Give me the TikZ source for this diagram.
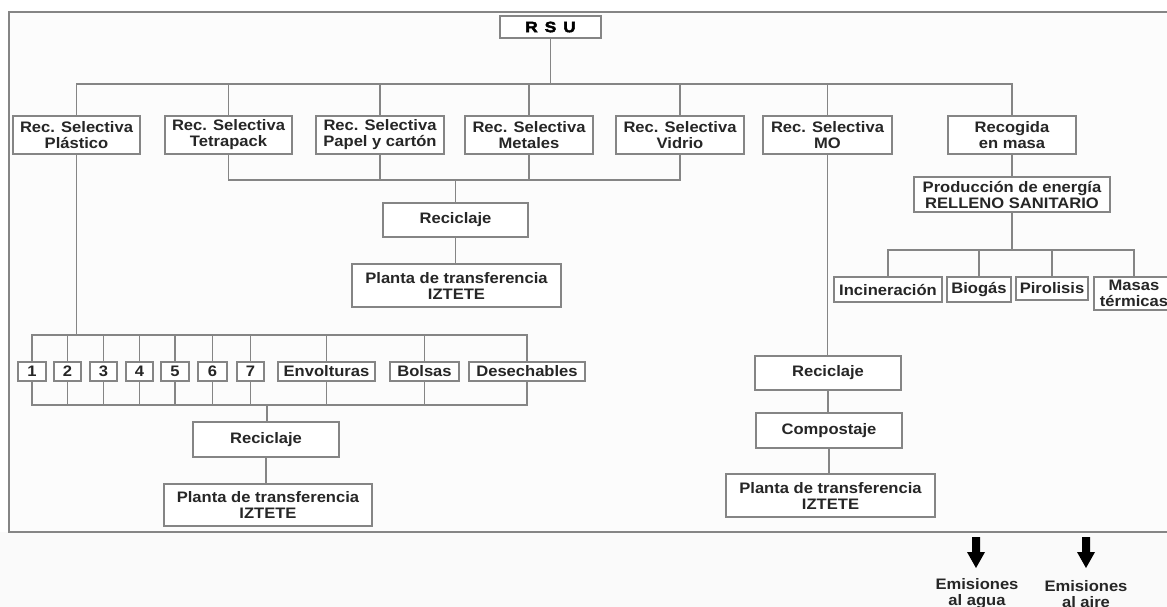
\documentclass[tikz,border=0pt]{standalone}
\usepackage{fontspec}
\setmainfont{Liberation Sans Bold}[FakeStretch=1.09]
\newfontfamily\rsufont{Liberation Sans Bold}[FakeStretch=1.15,FakeBold=3]
\definecolor{linec}{HTML}{858585}
\definecolor{txt}{HTML}{262626}
\definecolor{bgin}{HTML}{FCFCFC}
\definecolor{bgout}{HTML}{FAFAFA}
\newcommand{\fsz}{\fontsize{15.2pt}{16pt}\selectfont}
\begin{document}
\begin{tikzpicture}[x=1pt,y=-1pt,
  bx/.style={draw=linec, line width=1.3pt, fill=white, inner sep=0pt, align=center, font=\fsz, text=txt},
  sz/.style 2 args={minimum width=#1pt, minimum height=#2pt},
  ln/.style={draw=linec, line width=1.2pt},
  lbl/.style={inner sep=0pt, align=center, font=\fsz, text=txt}]
\useasboundingbox (0,0) rectangle (1167,607);
\clip (0,0) rectangle (1167,607);
\fill[white] (0,0) rectangle (1167,607);
\fill[bgout] (0,532) rectangle (1167,607);
\filldraw[fill=bgin, draw=linec, line width=1.2pt] (1190,12) -- (9,12) -- (9,532) -- (1190,532);

% nodes
\node[bx, sz={101}{22}, font=\rsufont\fontsize{15pt}{16pt}\selectfont, text=black] (rsu) at (550.5,27) {R\hspace{7pt}S\hspace{7pt}U};
\node[bx, sz={127}{38}] (p1) at (76.5,135) {Rec. Selectiva\\Plástico};
\node[bx, sz={127}{38}] (p2) at (228.5,135) {Rec. Selectiva\\Tetrapack};
\node[bx, sz={128}{38}] (p3) at (380,135) {Rec. Selectiva\\Papel y cartón};
\node[bx, sz={128}{38}] (p4) at (529,135) {Rec. Selectiva\\Metales};
\node[bx, sz={128}{38}] (p5) at (680,135) {Rec. Selectiva\\Vidrio};
\node[bx, sz={129}{38}] (p6) at (827.5,135) {Rec. Selectiva\\MO};
\node[bx, sz={128}{38}] (p7) at (1012,135) {Recogida\\en masa};

\node[bx, sz={145}{34}] (rec1) at (455.5,220) {Reciclaje};
\node[bx, sz={209}{43}] (pl1) at (456.5,285.5) {Planta de transferencia\\IZTETE};

\node[bx, sz={28}{19}] (n1) at (32,371.5) {1};
\node[bx, sz={27}{19}] (n2) at (67.5,371.5) {2};
\node[bx, sz={27}{19}] (n3) at (103.5,371.5) {3};
\node[bx, sz={27}{19}] (n4) at (139.5,371.5) {4};
\node[bx, sz={28}{19}] (n5) at (175,371.5) {5};
\node[bx, sz={29}{19}] (n6) at (212.5,371.5) {6};
\node[bx, sz={27}{19}] (n7) at (250.5,371.5) {7};
\node[bx, sz={97}{19}] (env) at (326.5,371.5) {Envolturas};
\node[bx, sz={69}{19}] (bol) at (424.5,371.5) {Bolsas};
\node[bx, sz={116}{19}] (des) at (527,371.5) {Desechables};

\node[bx, sz={146}{35}] (rec2) at (266,439.5) {Reciclaje};
\node[bx, sz={208}{42}] (pl2) at (268,505) {Planta de transferencia\\IZTETE};

\node[bx, sz={196}{35}] (prod) at (1012,194.5) {Producción de energía\\RELLENO SANITARIO};
\node[bx, sz={108}{25}] (inc) at (888,289.5) {Incineración};
\node[bx, sz={64}{25}] (bio) at (979,289.5) {Biogás};
\node[bx, sz={72}{23}] (pir) at (1052,288.5) {Pirolisis};
\node[bx, sz={80}{33}] (mas) at (1134,293.5) {Masas\\térmicas};

\node[bx, sz={146}{34}] (rec3) at (828,373) {Reciclaje};
\node[bx, sz={146}{35}] (comp) at (829,430.5) {Compostaje};
\node[bx, sz={209}{43}] (pl3) at (830.5,495.5) {Planta de transferencia\\IZTETE};

% connectors
\coordinate (b1) at (550.5,84);
\draw[ln] (rsu) -- (b1);
\draw[ln] (p1.north) |- (b1) -| (p7.north);
\foreach \n in {p2,p3,p4,p5,p6} \draw[ln] (\n.north) -- (\n.north |- b1);

\coordinate (b2) at (455.5,180);
\draw[ln] (p2.south) |- (b2) -| (p5.south);
\foreach \n in {p3,p4} \draw[ln] (\n.south) -- (\n.south |- b2);
\draw[ln] (b2) -- (rec1);
\draw[ln] (rec1.south) -- (rec1.south |- pl1.north);

\coordinate (b3) at (76.5,335);
\draw[ln] (p1.south) -- (b3);
\draw[ln] (n1.north) |- (b3) -| (des.north);
\foreach \n in {n2,n3,n4,n5,n6,n7,env,bol} \draw[ln] (\n.north) -- (\n.north |- b3);

\coordinate (b4) at (267,405);
\draw[ln] (n1.south) |- (b4) -| (des.south);
\foreach \n in {n2,n3,n4,n5,n6,n7,env,bol} \draw[ln] (\n.south) -- (\n.south |- b4);
\draw[ln] (b4) -- (b4 |- rec2.north);
\draw[ln] (rec2.south) -- (rec2.south |- pl2.north);

\draw[ln] (p7.south) -- (p7.south |- prod.north);
\coordinate (b5) at (1012,250);
\draw[ln] (prod) -- (b5);
\draw[ln] (inc.north) |- (b5) -| (mas.north);
\foreach \n in {bio,pir} \draw[ln] (\n.north) -- (\n.north |- b5);

\draw[ln] (p6.south) -- (p6.south |- rec3.north);
\draw[ln] (rec3.south) -- (rec3.south |- comp.north);
\draw[ln] (comp.south) -- (comp.south |- pl3.north);

% emissions
\node[lbl] (em1) at (977,594) {Emisiones\\al agua};
\node[lbl] (em2) at (1086,594) {Emisiones\\al aire};
\fill[black] (972,537) -- (980,537) -- (980,552) -- (985,552) -- (976,568) -- (967,552) -- (972,552) -- cycle;
\fill[black] (1082,537) -- (1090,537) -- (1090,552) -- (1095,552) -- (1086,568) -- (1077,552) -- (1082,552) -- cycle;
\end{tikzpicture}
\end{document}
